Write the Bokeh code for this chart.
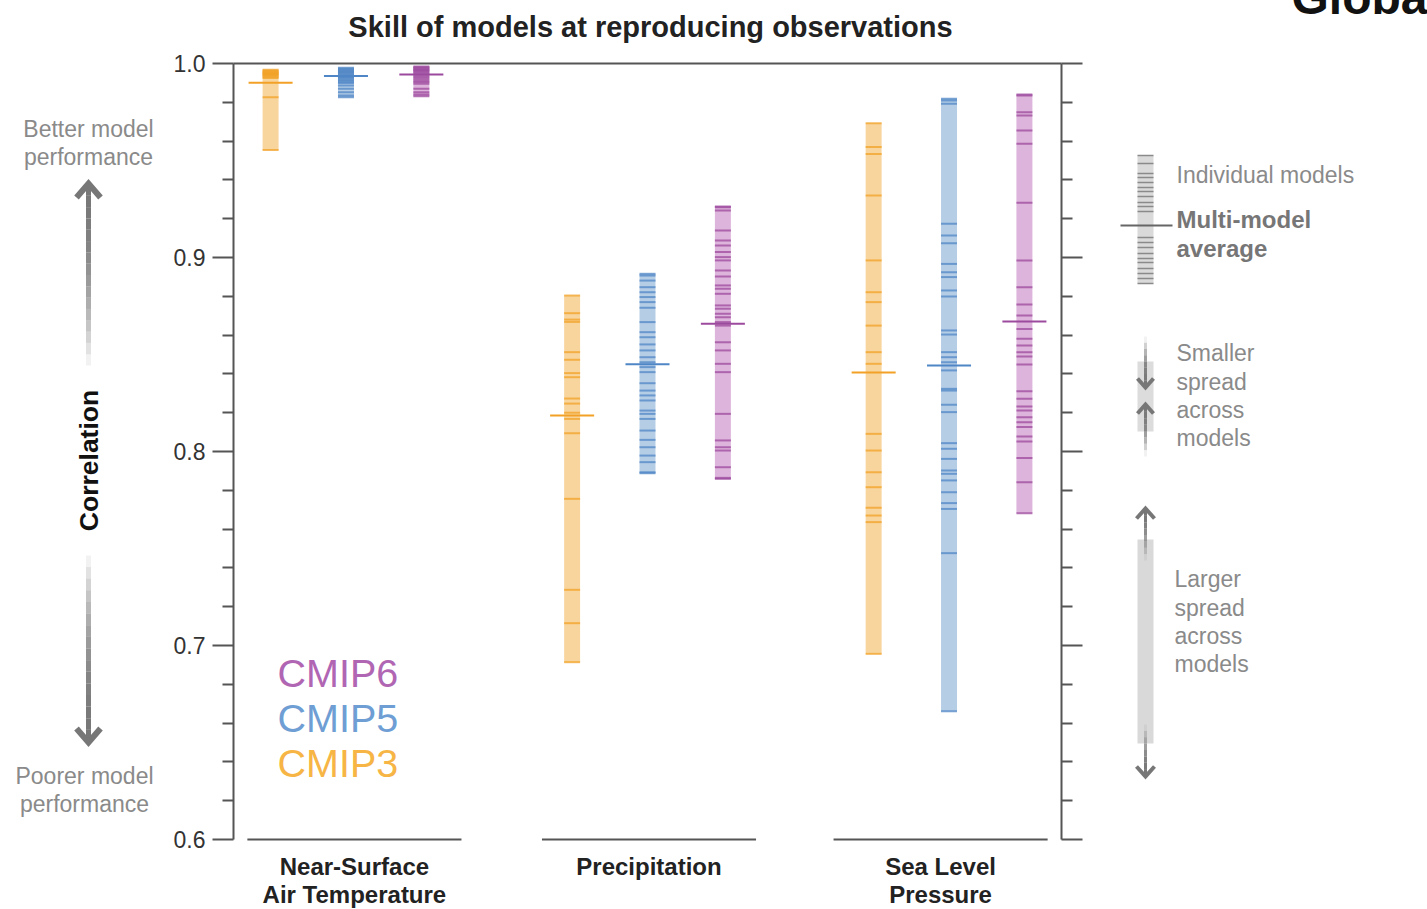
from math import pi

from bokeh.plotting import figure
from bokeh.models import (LinearAxis, FixedTicker, Range1d, ColumnDataSource,
                          PrintfTickFormatter)
from bokeh.core.properties import value
from bokeh.embed import file_html
from bokeh.resources import INLINE

# ---------------------------------------------------------------- data
variables = [["Near-Surface", "Air Temperature"], ["Precipitation"], ["Sea Level", "Pressure"]]
generations = ["CMIP3", "CMIP5", "CMIP6"]

# pattern correlation of each individual model with observations
tas_cmip3 = [0.9968, 0.9963, 0.9958, 0.9954, 0.9950, 0.9946, 0.9942, 0.9937,
             0.9932, 0.9925, 0.9826, 0.9554]
tas_cmip5 = [0.9978, 0.9973, 0.9968, 0.9963, 0.9958, 0.9953, 0.9948, 0.9942,
             0.9937, 0.9931, 0.9925, 0.9918, 0.9912, 0.9906, 0.9900, 0.9887,
             0.9870, 0.9852, 0.9835, 0.9826]
tas_cmip6 = [0.9985, 0.9981, 0.9976, 0.9971, 0.9966, 0.9961, 0.9955, 0.9948,
             0.9940, 0.9931, 0.9922, 0.9912, 0.9904, 0.9895, 0.9870, 0.9852,
             0.9840, 0.9831]

pr_cmip3 = [0.8804, 0.8713, 0.8680, 0.8668, 0.8512, 0.8473, 0.8404, 0.8383,
            0.8273, 0.8247, 0.8200, 0.8168, 0.8094, 0.7756, 0.7287, 0.7115,
            0.6914]
pr_cmip5 = [0.8916, 0.8907, 0.8881, 0.8847, 0.8821, 0.8796, 0.8770, 0.8741,
            0.8667, 0.8615, 0.8589, 0.8552, 0.8521, 0.8486, 0.8460, 0.8435,
            0.8409, 0.8352, 0.8314, 0.8289, 0.8263, 0.8211, 0.8194, 0.8168,
            0.8108, 0.8060, 0.8022, 0.7979, 0.7945, 0.7893, 0.7888]
pr_cmip6 = [0.9263, 0.9259, 0.9242, 0.9139, 0.9088, 0.9062, 0.9028, 0.9002,
            0.8985, 0.8933, 0.8902, 0.8856, 0.8839, 0.8813, 0.8753, 0.8736,
            0.8710, 0.8692, 0.8667, 0.8649, 0.8563, 0.8521, 0.8452, 0.8409,
            0.8194, 0.8057, 0.8022, 0.8005, 0.7919, 0.7864, 0.7859]

psl_cmip3 = [0.9692, 0.9569, 0.9534, 0.9320, 0.8985, 0.8821, 0.8770, 0.8649,
             0.8512, 0.8452, 0.8091, 0.8005, 0.7893, 0.7816, 0.7710, 0.7670,
             0.7636, 0.6957]
psl_cmip5 = [0.9818, 0.9809, 0.9792, 0.9174, 0.9113, 0.9074, 0.8967, 0.8924,
             0.8899, 0.8830, 0.8799, 0.8624, 0.8603, 0.8512, 0.8486, 0.8460,
             0.8418, 0.8323, 0.8314, 0.8241, 0.8203, 0.8043, 0.8014, 0.7962,
             0.7902, 0.7885, 0.7851, 0.7790, 0.7734, 0.7704, 0.7476, 0.6661]
psl_cmip6 = [0.9840, 0.9835, 0.9749, 0.9732, 0.9655, 0.9586, 0.9282, 0.8985,
             0.8847, 0.8758, 0.8701, 0.8632, 0.8581, 0.8546, 0.8512, 0.8490,
             0.8448, 0.8311, 0.8272, 0.8232, 0.8211, 0.8177, 0.8151, 0.8126,
             0.8077, 0.8052, 0.7966, 0.7842, 0.7682]

# multi-model averages (tas, pr, psl)
mean_cmip3 = [0.9901, 0.8186, 0.8407]
mean_cmip5 = [0.9935, 0.8450, 0.8443]
mean_cmip6 = [0.9943, 0.8658, 0.8670]

y_ticks = [0.6, 0.7, 0.8, 0.9, 1.0]
y_minor_ticks = [0.62, 0.64, 0.66, 0.68, 0.72, 0.74, 0.76, 0.78, 0.82, 0.84,
                 0.86, 0.88, 0.92, 0.94, 0.96, 0.98]

models = {
    "CMIP3": [tas_cmip3, pr_cmip3, psl_cmip3],
    "CMIP5": [tas_cmip5, pr_cmip5, psl_cmip5],
    "CMIP6": [tas_cmip6, pr_cmip6, psl_cmip6],
}
means = {"CMIP3": mean_cmip3, "CMIP5": mean_cmip5, "CMIP6": mean_cmip6}

# ---------------------------------------------------------------- style
line_col = {"CMIP3": "#F2A126", "CMIP5": "#4F86C6", "CMIP6": "#9C4A9E"}
fill_col = {"CMIP3": "#F9D59E", "CMIP5": "#B6CDE6", "CMIP6": "#DDB4DB"}
legend_col = {"CMIP3": "#F6B545", "CMIP5": "#6E9ED3", "CMIP6": "#B066B3"}
offset = {"CMIP3": -0.25, "CMIP5": 0.0, "CMIP6": 0.25}
BAR_W = 0.053
MEAN_HALF = 0.073
BASE_HALF = 0.355
group_shift = [0.028, 0.005, -0.028]   # baseline / caption nudges per group
FONT = "Liberation Sans"
GREY_TXT = "#8a8a8a"
GREY_ARR = "#777777"

W, H = 1427, 909
X0, X1 = 0.627, 3.373
FL, FR, FT, FB = 233, 1061, 63, 839

p = figure(width=W, height=H, output_backend="svg", toolbar_location=None,
           x_range=Range1d(X0, X1), y_range=Range1d(0.6, 1.0),
           x_axis_location=None, y_axis_location=None,
           min_border_left=FL, min_border_right=W - FR,
           min_border_top=FT, min_border_bottom=H - FB)
p.outline_line_color = None
p.background_fill_color = "white"
p.border_fill_color = "white"
p.xgrid.visible = False
p.ygrid.visible = False


def X(px):
    return X0 + (px - FL) * (X1 - X0) / (FR - FL)


def Y(py):
    return 1.0 - (py - FT) * 0.4 / (FB - FT)


# ---------------------------------------------------------------- axes
def y_axis(labels):
    ax = LinearAxis(ticker=FixedTicker(ticks=y_ticks, minor_ticks=y_minor_ticks),
                    formatter=PrintfTickFormatter(format="%.1f"))
    ax.axis_line_width = 2
    ax.axis_line_color = "#555555"
    ax.major_tick_in = 0
    ax.major_tick_out = 21
    ax.minor_tick_in = 0
    ax.minor_tick_out = 11
    ax.major_tick_line_width = 2
    ax.minor_tick_line_width = 2
    ax.major_tick_line_color = "#555555"
    ax.minor_tick_line_color = "#555555"
    ax.major_label_text_font = FONT
    ax.major_label_text_font_size = "23px"
    ax.major_label_text_color = "#333333"
    ax.major_label_standoff = 7
    if not labels:
        ax.major_label_overrides = {t: "" for t in y_ticks}
    return ax


p.add_layout(y_axis(True), "left")
p.add_layout(y_axis(False), "right")

top_ax = LinearAxis(ticker=FixedTicker(ticks=[]), axis_line_width=2,
                    axis_line_color="#555555")
p.add_layout(top_ax, "above")

# baselines under each variable group
centers = [1, 2, 3]
base_mid = [c + s for c, s in zip(centers, group_shift)]
p.segment(x0=[c - BASE_HALF for c in base_mid], x1=[c + BASE_HALF for c in base_mid],
          y0=[0.6] * 3, y1=[0.6] * 3, line_color="#555555", line_width=2,
          level="overlay")

# ---------------------------------------------------------------- bars
for gen in generations:
    for vi, vals in enumerate(models[gen]):
        xc = vi + 1 + offset[gen]
        p.quad(left=[xc - BAR_W / 2], right=[xc + BAR_W / 2],
               bottom=[min(vals)], top=[max(vals)],
               fill_color=fill_col[gen], line_color=None)
        src = ColumnDataSource(dict(x0=[xc - BAR_W / 2] * len(vals),
                                    x1=[xc + BAR_W / 2] * len(vals),
                                    y=vals))
        p.segment(x0="x0", x1="x1", y0="y", y1="y", source=src,
                  line_color=line_col[gen], line_width=2, line_alpha=0.75)
        m = means[gen][vi]
        p.segment(x0=[xc - MEAN_HALF], x1=[xc + MEAN_HALF], y0=[m], y1=[m],
                  line_color=line_col[gen], line_width=2)

# ---------------------------------------------------------------- texts
def note(px, py, text, size=23, color=GREY_TXT, bold=False, align="left",
         angle=0.0, baseline="middle"):
    p.text(x=[X(px)], y=[Y(py)], text=[text], text_font=value(FONT),
           text_font_size=value(f"{size}px"), text_color=color,
           text_font_style="bold" if bold else "normal",
           text_align=align, text_baseline=baseline, angle=angle,
           level="overlay")


# variable names under the groups
for cx, lines in zip(base_mid, variables):
    for li, line in enumerate(lines):
        p.text(x=[cx], y=[Y(866 + 28 * li)], text=[line],
               text_font=value(FONT), text_font_size=value("24px"),
               text_font_style="bold", text_color="#222222",
               text_align="center", text_baseline="middle", level="overlay")

note(650, 26, "Skill of models at reproducing observations", size=29,
     color="#222222", bold=True, align="center")
note(1291, -3, "Global", size=48, color="#111111", bold=True)

for gen, py in zip(["CMIP6", "CMIP5", "CMIP3"], [672, 717, 762]):
    note(277, py, gen, size=39.5, color=legend_col[gen])

# left-hand guide
note(88, 128, "Better model", align="center")
note(88, 156, "performance", align="center")
note(84, 775, "Poorer model", align="center")
note(84, 803, "performance", align="center")
note(88, 460, "Correlation", size=26.5, color="#111111", bold=True,
     align="center", angle=pi / 2)


def fading_shaft(px, py_from, py_to, width, n=16):
    # shaft stays solid near the head and fades away towards py_to
    ys = [py_from + (py_to - py_from) * k / n for k in range(n + 1)]
    p.segment(x0=[X(px)] * n, x1=[X(px)] * n,
              y0=[Y(v) for v in ys[:-1]], y1=[Y(v) for v in ys[1:]],
              line_color=GREY_ARR, line_width=width,
              line_alpha=[1.0 - 0.9 * (k / (n - 1)) ** 2 for k in range(n)],
              level="overlay")


def head(px, tip_py, direction, half_w, depth, width):
    # open chevron head; direction -1 points up, +1 points down
    xs = [X(px - half_w), X(px), X(px + half_w)]
    ys = [Y(tip_py - direction * depth), Y(tip_py), Y(tip_py - direction * depth)]
    p.line(x=xs, y=ys, line_color=GREY_ARR, line_width=width,
           line_join="miter", level="overlay")


fading_shaft(88, 184, 365, 5)
head(88, 183, -1, 12, 14, 6)
fading_shaft(88, 741, 555, 5)
head(88, 742, 1, 12, 14, 6)

# right-hand guide
LX0, LX1, LXC = 1137, 1153, 1145
p.quad(left=[X(LX0)], right=[X(LX1)], top=[Y(155)], bottom=[Y(283)],
       fill_color="#dadada", line_color=None, level="overlay")
guide_rows = [155, 163, 173, 177, 182, 187, 191, 196, 202, 206, 211,
              237, 242, 247, 253, 258, 262, 268, 273, 278, 283]
p.segment(x0=[X(LX0)] * len(guide_rows), x1=[X(LX1)] * len(guide_rows),
          y0=[Y(v) for v in guide_rows], y1=[Y(v) for v in guide_rows],
          line_color="#8a8a8a", line_width=1.5, level="overlay")
p.segment(x0=[X(1120)], x1=[X(1172)], y0=[Y(225)], y1=[Y(225)],
          line_color="#666666", line_width=2, level="overlay")
note(1176, 174, "Individual models")
note(1176, 219, "Multi-model", size=24, color="#767676", bold=True)
note(1176, 248, "average", size=24, color="#767676", bold=True)

p.quad(left=[X(LX0)], right=[X(LX1)], top=[Y(361)], bottom=[Y(431)],
       fill_color="#dcdcdc", line_color=None, level="overlay")
fading_shaft(LXC, 386, 336, 3, n=8)
head(LXC, 387, 1, 8, 9, 4)
fading_shaft(LXC, 405, 456, 3, n=8)
head(LXC, 404, -1, 8, 9, 4)
for py, t in zip([352, 381, 409, 437], ["Smaller", "spread", "across", "models"]):
    note(1176, py, t)

p.quad(left=[X(LX0)], right=[X(LX1)], top=[Y(539)], bottom=[Y(743)],
       fill_color="#d9d9d9", line_color=None, level="overlay")
fading_shaft(LXC, 509, 560, 3, n=8)
head(LXC, 508, -1, 9, 10, 4)
fading_shaft(LXC, 775, 724, 3, n=8)
head(LXC, 776, 1, 9, 10, 4)
for py, t in zip([578, 607, 635, 663], ["Larger", "spread", "across", "models"]):
    note(1174, py, t)

open("out.html", "w").write(file_html(p, INLINE))
